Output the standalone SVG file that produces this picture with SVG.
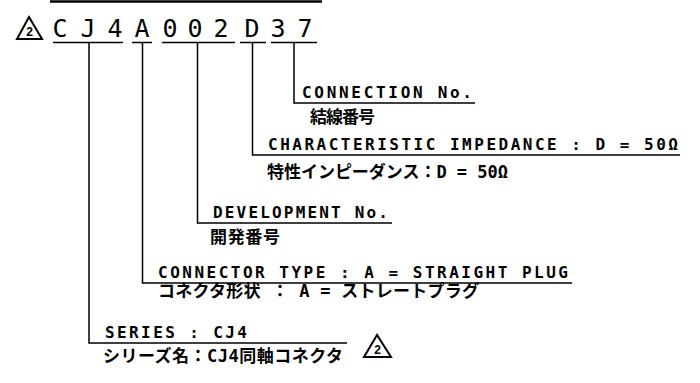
<svg xmlns="http://www.w3.org/2000/svg" width="700" height="383" viewBox="0 0 700 383">
<style>
.ln{stroke:#000;stroke-width:1.5;fill:none}
.hd{font-family:"DejaVu Sans Mono","Liberation Mono",monospace;font-size:25px;fill:#000;text-anchor:middle}
.en{font-family:"DejaVu Sans Mono","Liberation Mono",monospace;font-size:16px;fill:#000;font-weight:bold}
.jp{font-family:"DejaVu Sans Mono","Noto Sans CJK JP",monospace;font-size:17px;fill:#000;font-weight:bold}
.tri{stroke:#000;stroke-width:2;fill:#fff;stroke-linejoin:miter}
.tn{font-family:"Liberation Sans",Arial,sans-serif;font-size:12px;font-weight:bold;fill:#000;text-anchor:middle}
</style>
<line x1="50" y1="1.5" x2="322" y2="1.5" stroke="#000" stroke-width="2.5"/>
<g id="header">
<polygon class="tri" points="29,17 17,39 42,39"/>
<text class="tn" x="29.5" y="36">2</text>
<text class="hd" x="60" y="37">C</text>
<text class="hd" x="88" y="37">J</text>
<text class="hd" x="115" y="37">4</text>
<text class="hd" x="142" y="37">A</text>
<text class="hd" x="170" y="37">0</text>
<text class="hd" x="195" y="37">0</text>
<text class="hd" x="221" y="37">2</text>
<text class="hd" x="252" y="37">D</text>
<text class="hd" x="278" y="37">3</text>
<text class="hd" x="305" y="37">7</text>
</g>
<g id="connectors">
<line class="ln" x1="53" y1="42.5" x2="123" y2="42.5"/>
<line class="ln" x1="132" y1="42.5" x2="152" y2="42.5"/>
<line class="ln" x1="162" y1="42.5" x2="235" y2="42.5"/>
<line class="ln" x1="240" y1="42.5" x2="266" y2="42.5"/>
<line class="ln" x1="271" y1="42.5" x2="317" y2="42.5"/>
<polyline class="ln" points="89,42.5 89,343 347,343"/>
<polyline class="ln" points="142.5,42.5 142.5,283 572,283"/>
<polyline class="ln" points="197.5,42.5 197.5,223 392,223"/>
<polyline class="ln" points="252.5,42.5 252.5,155 680,155"/>
<polyline class="ln" points="294,42.5 294,103 475,103"/>
</g>
<g id="connection">
<text class="en" x="302" y="98" textLength="170" lengthAdjust="spacing">CONNECTION No.</text>
<text class="jp" x="310" y="123" textLength="65" lengthAdjust="spacing">結線番号</text>
</g>
<g id="impedance">
<text class="en" x="268" y="150" textLength="410" lengthAdjust="spacing">CHARACTERISTIC IMPEDANCE : D = 50Ω</text>
<text class="jp" x="267" y="178" textLength="241" lengthAdjust="spacing">特性インピーダンス：D = 50Ω</text>
</g>
<g id="development">
<text class="en" x="213" y="218" textLength="175" lengthAdjust="spacing">DEVELOPMENT No.</text>
<text class="jp" x="210" y="243" textLength="70" lengthAdjust="spacing">開発番号</text>
</g>
<g id="connector-type">
<text class="en" x="158" y="278" textLength="410" lengthAdjust="spacing">CONNECTOR TYPE : A = STRAIGHT PLUG</text>
<text class="jp" x="158" y="297" textLength="321" lengthAdjust="spacing">コネクタ形状 ： A = ストレートプラグ</text>
</g>
<g id="series">
<text class="en" x="105" y="338" textLength="142" lengthAdjust="spacing">SERIES : CJ4</text>
<text class="jp" x="103" y="362" textLength="240" lengthAdjust="spacing">シリーズ名：CJ4同軸コネクタ</text>
<polygon class="tri" points="377,335 364,357 391,357"/>
<text class="tn" x="377.5" y="354">2</text>
</g>
</svg>
